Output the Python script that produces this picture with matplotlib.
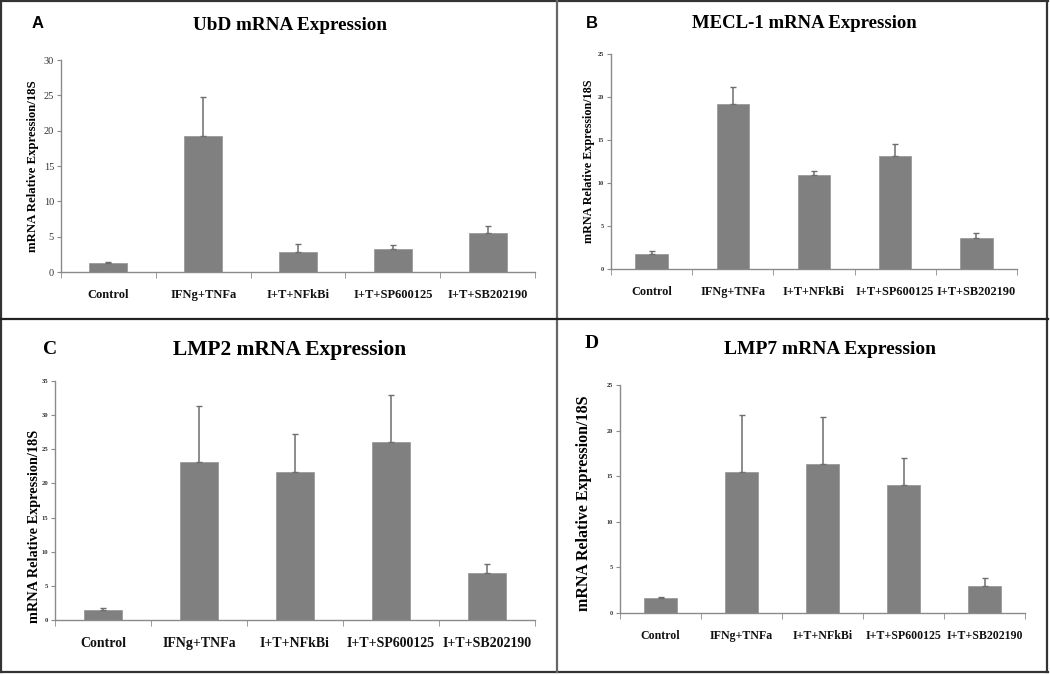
import numpy as np
import matplotlib
matplotlib.use("Agg")
import matplotlib.pyplot as plt
from matplotlib.lines import Line2D

categories = ["Control", "IFNg+TNFa", "I+T+NFkBi", "I+T+SP600125", "I+T+SB202190"]

# bar means and upper error-bar tops
ubd_mean = [1.27, 19.3, 2.8, 3.3, 5.45]
ubd_top = [1.37, 24.8, 3.95, 3.85, 6.5]
mecl_mean = [1.75, 19.15, 10.9, 13.1, 3.6]
mecl_top = [2.05, 21.2, 11.4, 14.5, 4.15]
lmp2_mean = [1.42, 23.2, 21.7, 26.1, 6.85]
lmp2_top = [1.7, 31.4, 27.3, 33.0, 8.2]
lmp7_mean = [1.6, 15.45, 16.3, 14.0, 3.0]
lmp7_top = [1.75, 21.7, 21.5, 17.0, 3.8]

W, H = 1050, 675
fig = plt.figure(figsize=(W / 100, H / 100), dpi=100)

SERIF = "Liberation Serif"
SANS = "Liberation Sans"
BAR = "#808080"
AXC = "#8a8a8a"


def px_axes(left, top, right, bottom):
    return fig.add_axes([left / W, 1 - bottom / H, (right - left) / W, (bottom - top) / H])


def panel(box, mean, top, ymax, title, letter, opts):
    ax = px_axes(*box)
    x = np.arange(len(categories))
    err = np.array(top) - np.array(mean)
    ax.bar(x, mean, width=0.4, color=BAR, edgecolor="#9a9a9a", linewidth=0.6, zorder=2)
    ax.errorbar(x, mean, yerr=[np.zeros_like(err), err], fmt="none",
                ecolor="#6e6e6e", elinewidth=1.1, capsize=2.2, capthick=1, zorder=3)
    ax.set_xlim(-0.5, len(categories) - 0.5)
    ax.set_ylim(0, ymax)
    ax.set_yticks(np.arange(0, ymax + 1, 5))
    for s in ["top", "right"]:
        ax.spines[s].set_visible(False)
    for s in ["left", "bottom"]:
        ax.spines[s].set_color(AXC)
        ax.spines[s].set_linewidth(1.0)
    ax.set_xticks(x)
    ax.set_xticklabels(categories, fontfamily=SERIF, fontweight="bold",
                       fontsize=opts["xfs"], color="#111111")
    ax.set_xticks(np.arange(-0.5, len(categories), 1.0), minor=True)
    ax.tick_params(axis="x", which="major", length=0, pad=opts["xpad"])
    ax.tick_params(axis="x", which="minor", length=4, color=AXC, direction="out")
    ax.tick_params(axis="y", length=3, color=AXC, labelsize=opts["yfs"], pad=2,
                   labelcolor="#333333")
    for lab in ax.get_yticklabels():
        lab.set_fontfamily(SERIF)
        lab.set_fontweight(opts["yweight"])
    ax.set_ylabel("mRNA Relative Expression/18S", fontfamily=SERIF, fontweight="bold",
                  fontsize=opts["ylfs"])
    ax.yaxis.set_label_coords(*opts["ylab_xy"])
    tx, ty = opts["title_xy"]
    fig.text(tx / W, 1 - ty / H, title, ha="center", va="center", fontfamily=SERIF,
             fontweight="bold", fontsize=opts["tfs"])
    lx, ly = opts["letter_xy"]
    fig.text(lx / W, 1 - ly / H, letter, ha="center", va="center",
             fontfamily=opts["letter_font"], fontweight="bold", fontsize=opts["lfs"])
    return ax


panel((61, 60, 535, 272), ubd_mean, ubd_top, 30, "UbD mRNA Expression", "A",
      dict(xfs=9, xpad=12, yfs=7.5, yweight="normal", ylfs=9.2, ylab_xy=(-0.046, 0.5),
           title_xy=(290, 25), tfs=13.8, letter_xy=(38, 23), letter_font=SANS, lfs=12))
panel((611, 54, 1017, 269), mecl_mean, mecl_top, 25, "MECL-1 mRNA Expression", "B",
      dict(xfs=8.8, xpad=12, yfs=4.5, yweight="bold", ylfs=8.7, ylab_xy=(-0.039, 0.5),
           title_xy=(804, 24), tfs=13.5, letter_xy=(592, 23), letter_font=SANS, lfs=12))
panel((55, 381, 535, 620), lmp2_mean, lmp2_top, 35, "LMP2 mRNA Expression", "C",
      dict(xfs=10, xpad=12, yfs=4.8, yweight="bold", ylfs=10.3, ylab_xy=(-0.029, 0.39),
           title_xy=(290, 350), tfs=15.5, letter_xy=(50, 349), letter_font=SERIF, lfs=14))
panel((620, 385, 1025, 613), lmp7_mean, lmp7_top, 25, "LMP7 mRNA Expression", "D",
      dict(xfs=8.6, xpad=12, yfs=4.5, yweight="bold", ylfs=11.5, ylab_xy=(-0.069, 0.48),
           title_xy=(830, 349), tfs=14.0, letter_xy=(592, 343), letter_font=SERIF, lfs=14))

# panel frame lines
def fig_line(x0, y0, x1, y1, color="#333333", lw=1.6):
    fig.add_artist(Line2D([x0 / W, x1 / W], [1 - y0 / H, 1 - y1 / H],
                          color=color, linewidth=lw))


fig_line(1, 1, 1048, 1)
fig_line(1, 672, 1048, 672)
fig_line(1, 1, 1, 672)
fig_line(1047, 1, 1047, 672)
fig_line(557, 1, 557, 672, color="#666666")
fig_line(1, 319, 1048, 319, color="#222222")

fig.savefig("out.png", dpi=100)
